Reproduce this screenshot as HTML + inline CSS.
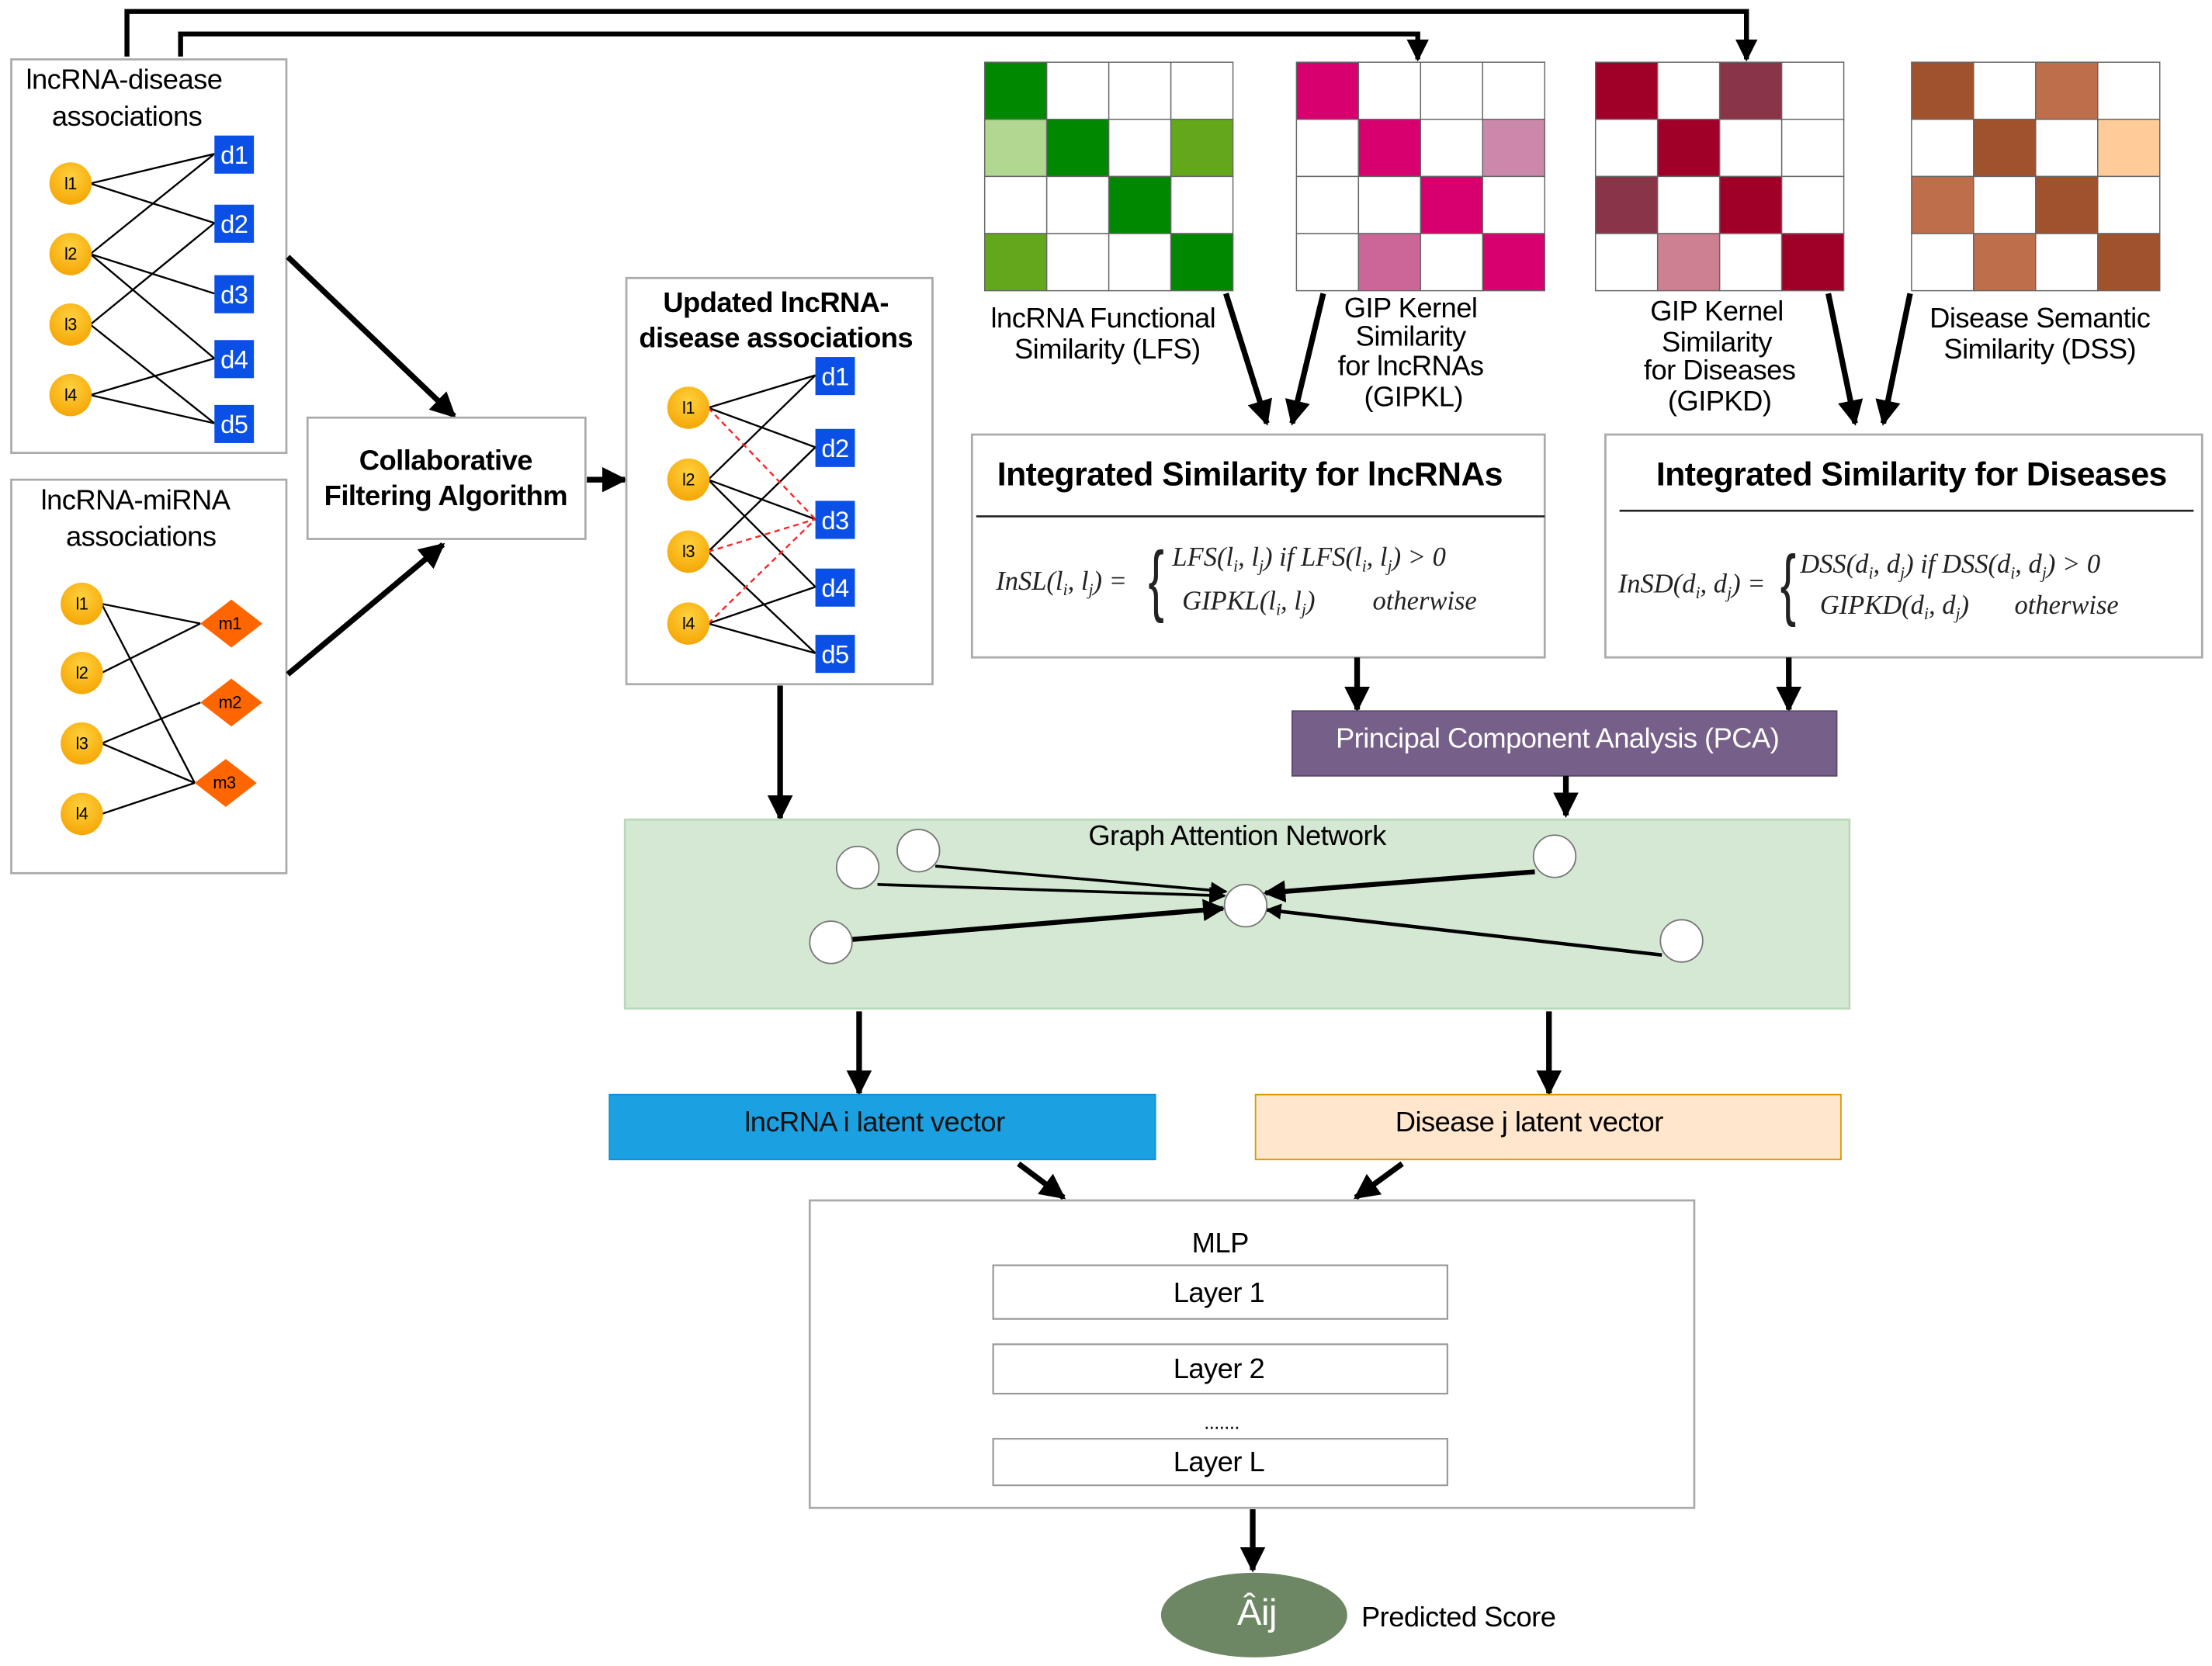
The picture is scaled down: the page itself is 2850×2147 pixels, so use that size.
<!DOCTYPE html>
<html><head><meta charset="utf-8"><style>
html,body{margin:0;padding:0;background:#fff;}
svg{display:block;}
text{font-family:"Liberation Sans",sans-serif;letter-spacing:-0.3px;}
.f{font-family:"Liberation Serif",serif;font-style:italic;font-size:19px;fill:#222;letter-spacing:0;}
</style></head><body>
<svg width="2850" height="2147" viewBox="0 0 1568 1181" xmlns="http://www.w3.org/2000/svg">
<defs>
<marker id="a" viewBox="0 0 10 10" refX="9" refY="5" markerWidth="4.5" markerHeight="4.5" orient="auto" markerUnits="strokeWidth"><path d="M0,0 L10,5 L0,10 z" fill="#000"/></marker>
<marker id="b" viewBox="0 0 10 10" refX="9" refY="5" markerWidth="6" markerHeight="6" orient="auto" markerUnits="strokeWidth"><path d="M0,0 L10,5 L0,10 z" fill="#000"/></marker>
<radialGradient id="og" cx="0.5" cy="0.35" r="0.7"><stop offset="0" stop-color="#FFD23F"/><stop offset="1" stop-color="#F5A300"/></radialGradient>
</defs>
<rect width="1568" height="1181" fill="#fff"/>

<polyline points="90,40 90,8 1238,8 1238,42" fill="none" stroke="#000" stroke-width="3.5" marker-end="url(#a)"/>
<polyline points="128,40 128,24 1005,24 1005,42" fill="none" stroke="#000" stroke-width="3.5" marker-end="url(#a)"/>

<rect x="8" y="42" width="195" height="279" fill="#fff" stroke="#aaa" stroke-width="1.5"/>
<text x="88" y="63" font-size="20" text-anchor="middle">lncRNA-disease</text>
<text x="90" y="89" font-size="20" text-anchor="middle">associations</text>
<g stroke="#000" stroke-width="1.3">
<line x1="64" y1="130" x2="152" y2="109"/><line x1="64" y1="130" x2="152" y2="158"/>
<line x1="64" y1="180" x2="152" y2="109"/><line x1="64" y1="180" x2="152" y2="208"/><line x1="64" y1="180" x2="152" y2="254"/>
<line x1="64" y1="230" x2="152" y2="158"/><line x1="64" y1="230" x2="152" y2="300"/>
<line x1="64" y1="280" x2="152" y2="254"/><line x1="64" y1="280" x2="152" y2="300"/>
</g>
<g fill="url(#og)"><circle cx="50" cy="130" r="15"/><circle cx="50" cy="180" r="15"/><circle cx="50" cy="230" r="15"/><circle cx="50" cy="280" r="15"/></g>
<g font-size="12" text-anchor="middle"><text x="50" y="134">l1</text><text x="50" y="184">l2</text><text x="50" y="234">l3</text><text x="50" y="284">l4</text></g>
<g fill="#0A4FE6"><rect x="152" y="96" width="28" height="27"/><rect x="152" y="145" width="28" height="27"/><rect x="152" y="195" width="28" height="27"/><rect x="152" y="241" width="28" height="27"/><rect x="152" y="287" width="28" height="27"/></g>
<g font-size="18" fill="#fff" text-anchor="middle"><text x="166" y="116">d1</text><text x="166" y="165">d2</text><text x="166" y="215">d3</text><text x="166" y="261">d4</text><text x="166" y="307">d5</text></g>

<rect x="8" y="340" width="195" height="279" fill="#fff" stroke="#aaa" stroke-width="1.5"/>
<text x="96" y="361" font-size="20" text-anchor="middle">lncRNA-miRNA</text>
<text x="100" y="387" font-size="20" text-anchor="middle">associations</text>
<g stroke="#000" stroke-width="1.3">
<line x1="72" y1="428" x2="142" y2="442"/><line x1="72" y1="428" x2="138" y2="555"/>
<line x1="72" y1="477" x2="142" y2="442"/>
<line x1="72" y1="527" x2="142" y2="498"/><line x1="72" y1="527" x2="138" y2="555"/>
<line x1="72" y1="577" x2="138" y2="555"/>
</g>
<g fill="url(#og)"><circle cx="58" cy="428" r="15"/><circle cx="58" cy="477" r="15"/><circle cx="58" cy="527" r="15"/><circle cx="58" cy="577" r="15"/></g>
<g font-size="12" text-anchor="middle"><text x="58" y="432">l1</text><text x="58" y="481">l2</text><text x="58" y="531">l3</text><text x="58" y="581">l4</text></g>
<g fill="#FF6600"><path d="M164,425 L186,442 L164,459 L142,442z"/><path d="M164,481 L186,498 L164,515 L142,498z"/><path d="M160,538 L182,555 L160,572 L138,555z"/></g>
<g font-size="12" text-anchor="middle"><text x="163" y="446">m1</text><text x="163" y="502">m2</text><text x="159" y="559">m3</text></g>

<line x1="204" y1="182" x2="322" y2="295" stroke="#000" stroke-width="4" marker-end="url(#a)"/>
<line x1="204" y1="478" x2="314" y2="386" stroke="#000" stroke-width="4" marker-end="url(#a)"/>
<rect x="218" y="296" width="197" height="86" fill="#fff" stroke="#aaa" stroke-width="1.5"/>
<text x="316" y="333" font-size="20" font-weight="bold" text-anchor="middle">Collaborative</text>
<text x="316" y="358" font-size="20" font-weight="bold" text-anchor="middle">Filtering Algorithm</text>
<line x1="416" y1="340" x2="443" y2="340" stroke="#000" stroke-width="4" marker-end="url(#a)"/>

<rect x="444" y="197" width="217" height="288" fill="#fff" stroke="#aaa" stroke-width="1.5"/>
<text x="550" y="221" font-size="20" font-weight="bold" text-anchor="middle">Updated lncRNA-</text>
<text x="550" y="246" font-size="20" font-weight="bold" text-anchor="middle">disease associations</text>
<g stroke="#000" stroke-width="1.3">
<line x1="502" y1="289" x2="578" y2="266"/><line x1="502" y1="289" x2="578" y2="317"/>
<line x1="502" y1="340" x2="578" y2="266"/><line x1="502" y1="340" x2="578" y2="368"/><line x1="502" y1="340" x2="578" y2="416"/>
<line x1="502" y1="391" x2="578" y2="317"/><line x1="502" y1="391" x2="578" y2="463"/>
<line x1="502" y1="442" x2="578" y2="416"/><line x1="502" y1="442" x2="578" y2="463"/>
</g>
<g stroke="#f22" stroke-width="1.3" stroke-dasharray="4,3">
<line x1="502" y1="289" x2="578" y2="368"/><line x1="502" y1="391" x2="578" y2="368"/><line x1="502" y1="442" x2="578" y2="368"/>
</g>
<g fill="url(#og)"><circle cx="488" cy="289" r="15"/><circle cx="488" cy="340" r="15"/><circle cx="488" cy="391" r="15"/><circle cx="488" cy="442" r="15"/></g>
<g font-size="12" text-anchor="middle"><text x="488" y="293">l1</text><text x="488" y="344">l2</text><text x="488" y="395">l3</text><text x="488" y="446">l4</text></g>
<g fill="#0A4FE6"><rect x="578" y="253" width="28" height="27"/><rect x="578" y="304" width="28" height="27"/><rect x="578" y="355" width="28" height="27"/><rect x="578" y="403" width="28" height="27"/><rect x="578" y="450" width="28" height="27"/></g>
<g font-size="18" fill="#fff" text-anchor="middle"><text x="592" y="273">d1</text><text x="592" y="324">d2</text><text x="592" y="375">d3</text><text x="592" y="423">d4</text><text x="592" y="470">d5</text></g>
<line x1="553" y1="486" x2="553" y2="580" stroke="#000" stroke-width="4" marker-end="url(#a)"/>

<g stroke="#666" stroke-width="0.8">
<g transform="translate(698,44)">
<rect x="0" y="0" width="44" height="40.5" fill="#008800"/><rect x="44" y="0" width="44" height="40.5" fill="#fff"/><rect x="88" y="0" width="44" height="40.5" fill="#fff"/><rect x="132" y="0" width="44" height="40.5" fill="#fff"/>
<rect x="0" y="40.5" width="44" height="40.5" fill="#B0D890"/><rect x="44" y="40.5" width="44" height="40.5" fill="#008800"/><rect x="88" y="40.5" width="44" height="40.5" fill="#fff"/><rect x="132" y="40.5" width="44" height="40.5" fill="#62A81A"/>
<rect x="0" y="81" width="44" height="40.5" fill="#fff"/><rect x="44" y="81" width="44" height="40.5" fill="#fff"/><rect x="88" y="81" width="44" height="40.5" fill="#008800"/><rect x="132" y="81" width="44" height="40.5" fill="#fff"/>
<rect x="0" y="121.5" width="44" height="40.5" fill="#62A81A"/><rect x="44" y="121.5" width="44" height="40.5" fill="#fff"/><rect x="88" y="121.5" width="44" height="40.5" fill="#fff"/><rect x="132" y="121.5" width="44" height="40.5" fill="#008800"/>
</g>
<g transform="translate(919,44)">
<rect x="0" y="0" width="44" height="40.5" fill="#D8006E"/><rect x="44" y="0" width="44" height="40.5" fill="#fff"/><rect x="88" y="0" width="44" height="40.5" fill="#fff"/><rect x="132" y="0" width="44" height="40.5" fill="#fff"/>
<rect x="0" y="40.5" width="44" height="40.5" fill="#fff"/><rect x="44" y="40.5" width="44" height="40.5" fill="#D8006E"/><rect x="88" y="40.5" width="44" height="40.5" fill="#fff"/><rect x="132" y="40.5" width="44" height="40.5" fill="#CC88AA"/>
<rect x="0" y="81" width="44" height="40.5" fill="#fff"/><rect x="44" y="81" width="44" height="40.5" fill="#fff"/><rect x="88" y="81" width="44" height="40.5" fill="#D8006E"/><rect x="132" y="81" width="44" height="40.5" fill="#fff"/>
<rect x="0" y="121.5" width="44" height="40.5" fill="#fff"/><rect x="44" y="121.5" width="44" height="40.5" fill="#CC6699"/><rect x="88" y="121.5" width="44" height="40.5" fill="#fff"/><rect x="132" y="121.5" width="44" height="40.5" fill="#D8006E"/>
</g>
<g transform="translate(1131,44)">
<rect x="0" y="0" width="44" height="40.5" fill="#A00028"/><rect x="44" y="0" width="44" height="40.5" fill="#fff"/><rect x="88" y="0" width="44" height="40.5" fill="#8A3448"/><rect x="132" y="0" width="44" height="40.5" fill="#fff"/>
<rect x="0" y="40.5" width="44" height="40.5" fill="#fff"/><rect x="44" y="40.5" width="44" height="40.5" fill="#A00028"/><rect x="88" y="40.5" width="44" height="40.5" fill="#fff"/><rect x="132" y="40.5" width="44" height="40.5" fill="#fff"/>
<rect x="0" y="81" width="44" height="40.5" fill="#8A3448"/><rect x="44" y="81" width="44" height="40.5" fill="#fff"/><rect x="88" y="81" width="44" height="40.5" fill="#A00028"/><rect x="132" y="81" width="44" height="40.5" fill="#fff"/>
<rect x="0" y="121.5" width="44" height="40.5" fill="#fff"/><rect x="44" y="121.5" width="44" height="40.5" fill="#CC8090"/><rect x="88" y="121.5" width="44" height="40.5" fill="#fff"/><rect x="132" y="121.5" width="44" height="40.5" fill="#A00028"/>
</g>
<g transform="translate(1355,44)">
<rect x="0" y="0" width="44" height="40.5" fill="#A0522D"/><rect x="44" y="0" width="44" height="40.5" fill="#fff"/><rect x="88" y="0" width="44" height="40.5" fill="#BE6E4A"/><rect x="132" y="0" width="44" height="40.5" fill="#fff"/>
<rect x="0" y="40.5" width="44" height="40.5" fill="#fff"/><rect x="44" y="40.5" width="44" height="40.5" fill="#A0522D"/><rect x="88" y="40.5" width="44" height="40.5" fill="#fff"/><rect x="132" y="40.5" width="44" height="40.5" fill="#FFCC99"/>
<rect x="0" y="81" width="44" height="40.5" fill="#BE6E4A"/><rect x="44" y="81" width="44" height="40.5" fill="#fff"/><rect x="88" y="81" width="44" height="40.5" fill="#A0522D"/><rect x="132" y="81" width="44" height="40.5" fill="#fff"/>
<rect x="0" y="121.5" width="44" height="40.5" fill="#fff"/><rect x="44" y="121.5" width="44" height="40.5" fill="#BE6E4A"/><rect x="88" y="121.5" width="44" height="40.5" fill="#fff"/><rect x="132" y="121.5" width="44" height="40.5" fill="#A0522D"/>
</g>
</g>
<g font-size="20" text-anchor="middle">
<text x="782" y="232">lncRNA Functional</text><text x="785" y="254">Similarity (LFS)</text>
<text x="1000" y="225">GIP Kernel</text><text x="1000" y="245">Similarity</text><text x="1000" y="266">for lncRNAs</text><text x="1002" y="288">(GIPKL)</text>
<text x="1217" y="227">GIP Kernel</text><text x="1217" y="249">Similarity</text><text x="1219" y="269">for Diseases</text><text x="1219" y="291">(GIPKD)</text>
<text x="1446" y="232">Disease Semantic</text><text x="1446" y="254">Similarity (DSS)</text>
</g>
<g stroke="#000" stroke-width="4">
<line x1="869" y1="208" x2="898" y2="300" marker-end="url(#a)"/>
<line x1="938" y1="208" x2="916" y2="300" marker-end="url(#a)"/>
<line x1="1296" y1="208" x2="1315" y2="300" marker-end="url(#a)"/>
<line x1="1354" y1="208" x2="1335" y2="300" marker-end="url(#a)"/>
</g>

<rect x="689" y="308" width="406" height="158" fill="#fff" stroke="#aaa" stroke-width="1.5"/>
<text x="886" y="344" font-size="23.5" font-weight="bold" text-anchor="middle">Integrated Similarity for lncRNAs</text>
<line x1="692" y1="366" x2="1095" y2="366" stroke="#222" stroke-width="1.5"/>
<text class="f" x="706" y="418">InSL(l<tspan font-size="12" dy="4">i</tspan><tspan dy="-4">, l</tspan><tspan font-size="12" dy="4">j</tspan><tspan dy="-4">) =</tspan></text>
<text x="814" y="430" font-size="56" font-family="Liberation Serif" fill="#222" transform="translate(814,430) scale(0.6,1) translate(-814,-430)">{</text>
<text class="f" x="831" y="401">LFS(l<tspan font-size="12" dy="4">i</tspan><tspan dy="-4">, l</tspan><tspan font-size="12" dy="4">j</tspan><tspan dy="-4">)   if LFS(l</tspan><tspan font-size="12" dy="4">i</tspan><tspan dy="-4">, l</tspan><tspan font-size="12" dy="4">j</tspan><tspan dy="-4">) &gt; 0</tspan></text>
<text class="f" x="838" y="432">GIPKL(l<tspan font-size="12" dy="4">i</tspan><tspan dy="-4">, l</tspan><tspan font-size="12" dy="4">j</tspan><tspan dy="-4">)</tspan></text>
<text class="f" x="973" y="432">otherwise</text>

<rect x="1138" y="308" width="423" height="158" fill="#fff" stroke="#aaa" stroke-width="1.5"/>
<text x="1355" y="344" font-size="23.5" font-weight="bold" text-anchor="middle">Integrated Similarity for Diseases</text>
<line x1="1148" y1="362" x2="1555" y2="362" stroke="#222" stroke-width="1.5"/>
<text class="f" x="1147" y="420">InSD(d<tspan font-size="12" dy="4">i</tspan><tspan dy="-4">, d</tspan><tspan font-size="12" dy="4">j</tspan><tspan dy="-4">) =</tspan></text>
<text x="1262" y="433" font-size="56" font-family="Liberation Serif" fill="#222" transform="translate(1262,433) scale(0.6,1) translate(-1262,-433)">{</text>
<text class="f" x="1276" y="406">DSS(d<tspan font-size="12" dy="4">i</tspan><tspan dy="-4">, d</tspan><tspan font-size="12" dy="4">j</tspan><tspan dy="-4">)   if DSS(d</tspan><tspan font-size="12" dy="4">i</tspan><tspan dy="-4">, d</tspan><tspan font-size="12" dy="4">j</tspan><tspan dy="-4">) &gt; 0</tspan></text>
<text class="f" x="1290" y="435">GIPKD(d<tspan font-size="12" dy="4">i</tspan><tspan dy="-4">, d</tspan><tspan font-size="12" dy="4">j</tspan><tspan dy="-4">)</tspan></text>
<text class="f" x="1428" y="435">otherwise</text>

<g stroke="#000" stroke-width="4">
<line x1="962" y1="466" x2="962" y2="503" marker-end="url(#a)"/>
<line x1="1268" y1="466" x2="1268" y2="503" marker-end="url(#a)"/>
</g>
<rect x="916" y="504" width="386" height="46" fill="#76608A" stroke="#5a4670"/>
<text x="1104" y="530" font-size="20" fill="#fff" text-anchor="middle">Principal Component Analysis (PCA)</text>
<line x1="1110" y1="550" x2="1110" y2="578" stroke="#000" stroke-width="4" marker-end="url(#a)"/>

<rect x="443" y="581" width="868" height="134" fill="#D5E8D4" stroke="#bcd8ba" stroke-width="1.5"/>
<text x="877" y="599" font-size="20" text-anchor="middle">Graph Attention Network</text>
<g stroke="#000">
<line x1="663" y1="614" x2="869" y2="632" stroke-width="2" marker-end="url(#b)"/>
<line x1="622" y1="627" x2="868" y2="635" stroke-width="2" marker-end="url(#b)"/>
<line x1="604" y1="666" x2="867" y2="644" stroke-width="3.5" marker-end="url(#a)"/>
<line x1="1088" y1="618" x2="897" y2="633" stroke-width="3.5" marker-end="url(#a)"/>
<line x1="1178" y1="677" x2="898" y2="645" stroke-width="2.5" marker-end="url(#a)"/>
</g>
<g fill="#fff" stroke="#777" stroke-width="1">
<circle cx="608" cy="615" r="15"/><circle cx="651" cy="603" r="15"/><circle cx="883" cy="642" r="15"/><circle cx="1102" cy="607" r="15"/><circle cx="589" cy="668" r="15"/><circle cx="1192" cy="667" r="15"/>
</g>
<g stroke="#000" stroke-width="4">
<line x1="609" y1="717" x2="609" y2="775" marker-end="url(#a)"/>
<line x1="1098" y1="717" x2="1098" y2="775" marker-end="url(#a)"/>
</g>
<rect x="432" y="776" width="387" height="46" fill="#1BA1E2" stroke="#1090d0"/>
<text x="620" y="802" font-size="20" text-anchor="middle" fill="#111">lncRNA i latent vector</text>
<rect x="890" y="776" width="415" height="46" fill="#FFE6CC" stroke="#D79B00" stroke-width="1"/>
<text x="1084" y="802" font-size="20" text-anchor="middle">Disease j latent vector</text>
<g stroke="#000" stroke-width="4">
<line x1="722" y1="825" x2="754" y2="849" marker-end="url(#a)"/>
<line x1="994" y1="825" x2="961" y2="849" marker-end="url(#a)"/>
</g>

<rect x="574" y="851" width="627" height="218" fill="#fff" stroke="#aaa" stroke-width="1.5"/>
<text x="865" y="888" font-size="20" text-anchor="middle">MLP</text>
<g fill="#fff" stroke="#999" stroke-width="1.2">
<rect x="704" y="897" width="322" height="38"/><rect x="704" y="953" width="322" height="35"/><rect x="704" y="1020" width="322" height="33"/>
</g>
<g font-size="20" text-anchor="middle"><text x="864" y="923">Layer 1</text><text x="864" y="977">Layer 2</text><text x="866" y="1013" font-size="14">.......</text><text x="864" y="1043">Layer L</text></g>
<line x1="888" y1="1070" x2="888" y2="1113" stroke="#000" stroke-width="4" marker-end="url(#a)"/>
<ellipse cx="889" cy="1145" rx="66" ry="30" fill="#6D8764"/>
<text x="891" y="1152" font-size="26" fill="#fff" text-anchor="middle">Âij</text>
<text x="965" y="1153" font-size="20">Predicted Score</text>
</svg>
</body></html>
